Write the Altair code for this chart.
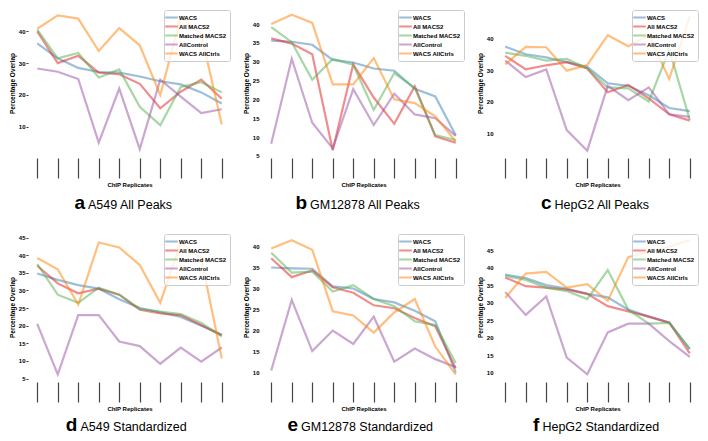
import altair as alt
import pandas as pd

SERIES = ["WACS", "All MACS2", "Matched MACS2", "AllControl", "WACS AllCtrls"]
COLORS = ["#377eb8", "#e41a1c", "#4daf4a", "#984ea3", "#ff7f00"]
REPLICATES = [1, 2, 3, 4, 5, 6, 7, 8, 9, 10]

# a  A549 All Peaks
A_WACS = [36.2, 31.5, 28.5, 27.2, 27.0, 25.8, 24.3, 23.3, 20.8, 17.3]
A_ALL = [40.0, 30.0, 32.3, 27.0, 26.5, 23.5, 15.8, 21.0, 24.8, 18.8]
A_MATCH = [40.5, 31.5, 33.2, 25.5, 28.0, 16.3, 10.5, 22.5, 24.0, 20.8]
A_CTRL = [28.3, 27.3, 25.0, 5.0, 22.0, 3.0, 24.8, 19.5, 14.3, 15.5]
A_WALL = [40.8, 45.0, 44.0, 33.8, 41.0, 35.6, 20.0, 44.5, 39.0, 10.7]

# b  GM12878 All Peaks
B_WACS = [35.6, 35.3, 34.5, 30.5, 29.8, 28.2, 27.6, 22.8, 20.8, 10.5]
B_ALL = [36.2, 34.8, 32.0, 6.5, 29.3, 20.5, 13.5, 23.5, 10.2, 8.5]
B_MATCH = [39.2, 35.2, 25.2, 30.7, 29.2, 17.2, 27.0, 23.0, 10.5, 9.2]
B_CTRL = [8.2, 30.8, 13.8, 7.0, 22.7, 13.2, 21.5, 16.0, 15.0, 10.3]
B_WALL = [40.0, 42.5, 40.3, 24.0, 24.0, 31.0, 20.0, 19.0, 15.5, 8.8]

# c  HepG2 All Peaks
C_WACS = [37.4, 35.0, 34.0, 32.5, 31.0, 25.8, 25.0, 22.0, 18.0, 17.0]
C_ALL = [34.5, 30.2, 31.5, 32.5, 30.5, 23.0, 25.3, 21.0, 16.0, 14.0]
C_MATCH = [35.5, 34.5, 33.0, 33.5, 30.5, 24.5, 24.2, 20.0, 36.5, 14.2]
C_CTRL = [33.0, 27.8, 30.2, 11.0, 4.5, 25.0, 20.5, 24.5, 16.0, 15.2]
C_WALL = [31.8, 37.3, 37.2, 29.8, 31.6, 41.0, 37.5, 41.0, 27.2, 47.0]

# d  A549 Standardized
D_WACS = [34.8, 33.0, 31.5, 30.5, 27.5, 25.0, 23.8, 22.5, 20.0, 17.5]
D_ALL = [37.0, 32.0, 29.2, 30.5, 28.8, 24.5, 23.5, 23.0, 20.2, 17.2]
D_MATCH = [37.5, 28.8, 26.5, 30.8, 28.8, 24.8, 24.0, 23.3, 20.8, 17.0]
D_CTRL = [20.5, 6.2, 23.0, 23.0, 15.5, 14.2, 9.2, 13.8, 9.8, 13.8]
D_WALL = [39.2, 36.0, 26.0, 43.6, 42.2, 37.2, 26.5, 43.5, 39.0, 10.7]

# e  GM12878 Standardized
E_WACS = [35.0, 34.8, 34.7, 30.5, 30.0, 27.5, 26.7, 24.7, 22.2, 10.0]
E_ALL = [37.2, 32.7, 34.3, 30.3, 29.0, 26.0, 25.3, 23.0, 21.0, 11.0]
E_MATCH = [38.5, 33.8, 34.0, 29.3, 30.8, 27.5, 25.8, 22.2, 21.3, 12.3]
E_CTRL = [10.5, 27.3, 15.1, 20.0, 16.8, 23.3, 12.6, 15.7, 13.2, 11.3]
E_WALL = [39.5, 41.5, 39.2, 24.6, 23.6, 19.5, 24.3, 27.5, 16.2, 9.5]

# f  HepG2 Standardized
F_WACS = [38.0, 37.0, 35.0, 34.0, 32.5, 31.5, 28.0, 26.0, 24.3, 16.7]
F_ALL = [37.2, 34.7, 34.3, 33.7, 32.5, 29.0, 27.5, 26.0, 24.3, 15.5]
F_MATCH = [37.7, 36.5, 34.3, 33.3, 31.0, 39.3, 28.0, 24.0, 24.2, 16.8]
F_CTRL = [33.0, 26.5, 31.8, 14.3, 9.5, 21.5, 24.0, 24.0, 19.0, 14.5]
F_WALL = [31.3, 38.3, 38.8, 34.3, 35.3, 30.5, 43.0, 44.5, 46.0, 47.9]

LETTERS = ["a", "b", "c", "d", "e", "f"]
NAMES = ["A549 All Peaks", "GM12878 All Peaks", "HepG2 All Peaks",
         "A549 Standardized", "GM12878 Standardized", "HepG2 Standardized"]
VALUES = [
    [A_WACS, A_ALL, A_MATCH, A_CTRL, A_WALL],
    [B_WACS, B_ALL, B_MATCH, B_CTRL, B_WALL],
    [C_WACS, C_ALL, C_MATCH, C_CTRL, C_WALL],
    [D_WACS, D_ALL, D_MATCH, D_CTRL, D_WALL],
    [E_WACS, E_ALL, E_MATCH, E_CTRL, E_WALL],
    [F_WACS, F_ALL, F_MATCH, F_CTRL, F_WALL],
]
Y_TICKS = [
    [10, 20, 30, 40],
    [5, 10, 15, 20, 25, 30, 35, 40],
    [10, 20, 30, 40],
    [5, 10, 15, 20, 25, 30, 35, 40, 45],
    [10, 15, 20, 25, 30, 35, 40],
    [10, 15, 20, 25, 30, 35, 40, 45],
]

# layout (scale extents and caption placement)
Y_DOMAINS = [[0.5, 47.0], [4.7, 44.0], [2.5, 49.3], [4.3, 46.3], [8.0, 43.2], [7.6, 49.9]]
CAP_OFF = [-43, -55, -44.5, -50.6, -64, -56.6]
W, H = 203, 148
FONT = "Liberation Sans"


def panel(i):
    rows = []
    for s, vals in zip(SERIES, VALUES[i]):
        for r, v in zip(REPLICATES, vals):
            rows.append({"rep": r, "series": s, "value": v})
    df = pd.DataFrame(rows)
    left_col = (i % 3 == 0)
    yaxis = alt.Axis(
        values=Y_TICKS[i], grid=False, domain=False,
        tickSize=2 if left_col else 0, labelPadding=1 if left_col else 3,
        tickColor="#333333",
        labelFont=FONT, labelFontSize=6, labelFontWeight="bold", labelColor="black",
        minExtent=11, maxExtent=11, titlePadding=2,
        titleFont=FONT, titleFontSize=6.5, titleFontWeight="bold", titleColor="black",
    )
    xaxis = alt.Axis(
        values=REPLICATES, labels=False, grid=False, domain=False,
        tickSize=20, tickColor="#444444", tickWidth=1.2, offset=1,
        titleFont=FONT, titleFontSize=6, titleFontWeight="bold", titleColor="black",
        titlePadding=3,
    )
    legend = alt.Legend(
        title=None, orient="top-right", offset=1,
        fillColor="rgba(255,255,255,0.8)", strokeColor="#cccccc", cornerRadius=2,
        padding=3, rowPadding=0,
        labelFont=FONT, labelFontSize=6, labelFontWeight="bold", labelColor="black",
        labelOffset=3, symbolType="M-2,0H2", symbolSize=40, symbolStrokeWidth=2,
        symbolOpacity=0.5,
    )
    lines = alt.Chart(df).mark_line(strokeWidth=2.2, opacity=0.5, clip=True).encode(
        x=alt.X("rep:Q", title="ChIP Replicates",
                scale=alt.Scale(domain=[0.55, 10.45], nice=False, zero=False), axis=xaxis),
        y=alt.Y("value:Q", title="Percentage Overlap",
                scale=alt.Scale(domain=Y_DOMAINS[i], nice=False, zero=False), axis=yaxis),
        color=alt.Color("series:N", scale=alt.Scale(domain=SERIES, range=COLORS),
                        legend=legend),
        order=alt.Order("rep:Q"),
    )
    base_y = H + (52 if i < 3 else 50)
    split = W / 2 + CAP_OFF[i]
    cap = pd.DataFrame({"letter": [LETTERS[i]], "name": [NAMES[i]]})
    letter = alt.Chart(cap).mark_text(
        align="right", baseline="alphabetic", font=FONT, fontSize=19,
        fontWeight="bold", color="black"
    ).encode(x=alt.value(split - 1.5), y=alt.value(base_y), text="letter:N")
    name = alt.Chart(cap).mark_text(
        align="left", baseline="alphabetic", font=FONT, fontSize=12.5,
        color="black"
    ).encode(x=alt.value(split + 1.5), y=alt.value(base_y), text="name:N")
    return alt.layer(lines, letter, name).properties(width=W, height=H)


row1 = alt.hconcat(panel(0), panel(1), panel(2), spacing=10).resolve_scale(
    color="independent", y="independent", x="independent")
row2 = alt.hconcat(panel(3), panel(4), panel(5), spacing=10).resolve_scale(
    color="independent", y="independent", x="independent")
chart = alt.vconcat(row1, row2, spacing=18).resolve_scale(
    color="independent", y="independent", x="independent"
).properties(
    padding={"left": 0, "top": 0, "right": 0, "bottom": 0},
    background="white",
).configure_view(stroke="transparent")

chart.save("out.html", embed_options={"renderer": "svg", "actions": False})
